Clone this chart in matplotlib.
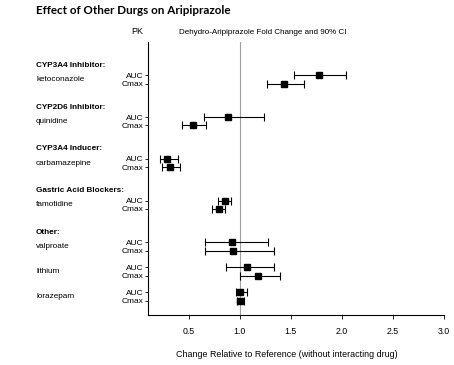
import numpy as np
import matplotlib.pyplot as plt

# groups, drugs and fold-change values (AUC, Cmax) with 90% CI
groups = ['CYP3A4 Inhibitor:', 'CYP2D6 Inhibitor:', 'CYP3A4 Inducer:',
          'Gastric Acid Blockers:', 'Other:']
drugs = ['ketoconazole', 'quinidine', 'carbamazepine', 'famotidine',
         'valproate', 'lithium', 'lorazepam']
drug_group = [0, 1, 2, 3, 4, 4, 4]
params = ['AUC', 'Cmax']

auc = [1.775, 0.886, 0.288, 0.853, 0.92, 1.07, 1.0]
auc_lo = [1.53, 0.647, 0.216, 0.79, 0.654, 0.86, 0.96]
auc_hi = [2.04, 1.235, 0.39, 0.916, 1.275, 1.33, 1.065]
cmax = [1.43, 0.543, 0.311, 0.794, 0.93, 1.18, 1.0]
cmax_lo = [1.27, 0.435, 0.24, 0.73, 0.654, 1.0, 0.97]
cmax_hi = [1.63, 0.67, 0.41, 0.853, 1.33, 1.39, 1.04]

xticks = [0.5, 1.0, 1.5, 2.0, 2.5, 3.0]

narrow = ['Liberation Sans Narrow', 'Liberation Sans', 'DejaVu Sans']

fig = plt.figure(figsize=(4.54, 3.65), dpi=100)
ax = fig.add_axes([0.326, 0.137, 0.652, 0.748])

# row positions: 5 units between groups, 3 units inside "Other"
ypos = []
y = 0
for i in range(len(drugs)):
    if i > 0:
        y += 5 if drug_group[i] != drug_group[i - 1] else 3
    ypos.append(y)
ypos = np.array(ypos, dtype=float)

ax.axvline(1.0, color='#a0a0a0', lw=0.8, zorder=1)

for vals, lo, hi, off in [(auc, auc_lo, auc_hi, 0), (cmax, cmax_lo, cmax_hi, 1)]:
    v = np.array(vals)
    err = [v - np.array(lo), np.array(hi) - v]
    ax.errorbar(v, ypos + off, xerr=err, fmt='s', color='black', ms=3.8,
                elinewidth=0.8, capsize=2.6, capthick=0.8, zorder=3)

yt = np.concatenate([ypos, ypos + 1])
ax.set_yticks(yt)
ax.set_yticklabels([params[0]] * len(ypos) + [params[1]] * len(ypos),
                   family=narrow, fontsize=6.0)
ax.tick_params(axis='y', length=2, width=0.6, pad=1)
ax.tick_params(axis='x', length=3, width=0.6, labelsize=6.3, pad=6)
ax.set_xticks(xticks)
ax.set_xticklabels([f'{t:.1f}' for t in xticks], family=narrow)
ax.set_xlim(0.1, 3.0)
ax.set_ylim(28.7, -4)

for s in ['top', 'right']:
    ax.spines[s].set_visible(False)
for s in ['left', 'bottom']:
    ax.spines[s].set_linewidth(0.8)

ax.set_xlabel('Change Relative to Reference (without interacting drug)',
              family=narrow, fontsize=6.4)
ax.xaxis.label.set_va('center')
ax.xaxis.set_label_coords(0.47, -0.143)

# left-hand labels
tr = ax.get_yaxis_transform()
x_lab = (36 / 454 - 0.326) / 0.652
done = set()
for i, d in enumerate(drugs):
    g = drug_group[i]
    if g not in done:
        ax.text(x_lab, ypos[i] - 1.2, groups[g], transform=tr, ha='left',
                va='center', fontsize=5.9, fontweight='bold', family=narrow)
        done.add(g)
    ax.text(x_lab, ypos[i] + 0.5, d, transform=tr, ha='left', va='center',
            fontsize=5.9, family=narrow, clip_on=False)

fig.text(137 / 454, 1 - 32 / 365, 'PK', ha='center', va='center',
         fontsize=6.5, family=narrow)
fig.text(263 / 454, 1 - 32 / 365, 'Dehydro-Aripiprazole Fold Change and 90% CI',
         ha='center', va='center', fontsize=5.8, family=narrow)
fig.text(36 / 454, 1 - 11 / 365, 'Effect of Other Durgs on Aripiprazole',
         ha='left', va='center', fontsize=8.4, fontweight='bold',
         family=['Lato', 'DejaVu Sans'])

fig.savefig('out.png', dpi=100)
